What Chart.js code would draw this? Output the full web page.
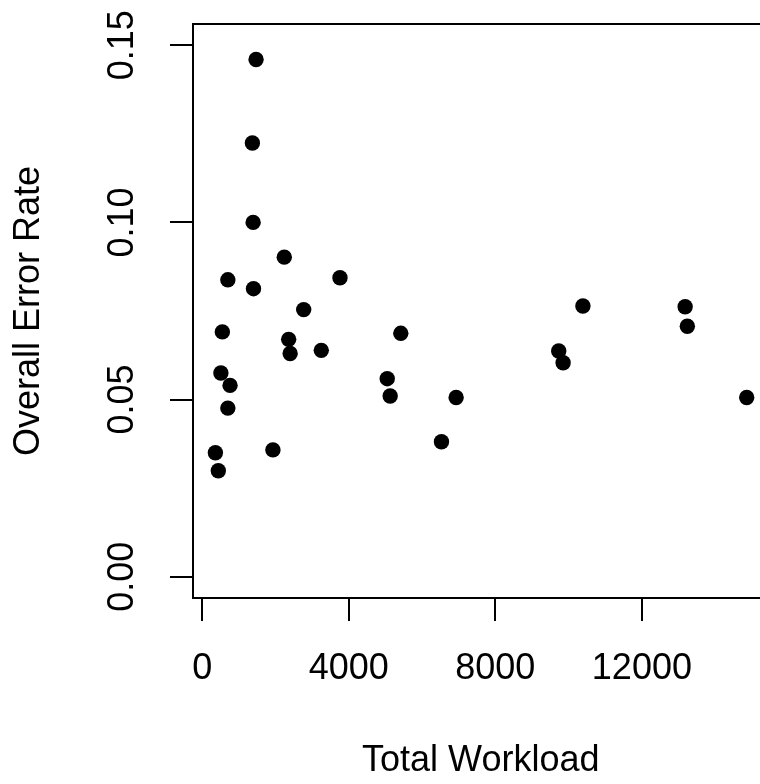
<!DOCTYPE html>
<html>
<head>
<meta charset="utf-8">
<script src="https://cdn.jsdelivr.net/npm/chart.js@4/dist/chart.umd.min.js"></script>
<style>
  html, body { margin: 0; padding: 0; background: #fff; overflow: hidden; }
  #wrap { width: 790px; height: 784px; }
</style>
</head>
<body>
<div id="wrap"><canvas id="chart" width="790" height="784"></canvas></div>
<script>
// data
var workload = [1470, 1370, 1390, 2240, 700, 1400, 3760, 2770, 550, 2360, 2400, 3250, 5420, 510, 760,
                700, 5050, 5130, 6930, 360, 1930, 6530, 440, 10390, 13180, 13240, 9730, 9850, 14860];
var errorRate = [0.1460, 0.1224, 0.1000, 0.0902, 0.0838, 0.0813, 0.0844, 0.0754, 0.0691, 0.0670, 0.0630, 0.0639, 0.0687, 0.0575, 0.0540,
                 0.0476, 0.0559, 0.0510, 0.0506, 0.0350, 0.0358, 0.0381, 0.0299, 0.0764, 0.0762, 0.0707, 0.0637, 0.0604, 0.0506];
var xTicks = [0, 4000, 8000, 12000];
var yTicks = [0.00, 0.05, 0.10, 0.15];

Chart.defaults.font.family = "'Liberation Sans', Arial, Helvetica, sans-serif";
Chart.defaults.color = '#000';

// R style box round the plot region
var boxPlugin = {
    id: 'box',
    afterDraw: function (chart) {
        var a = chart.chartArea;
        var ctx = chart.ctx;
        ctx.save();
        ctx.strokeStyle = '#000';
        ctx.lineWidth = 2;
        ctx.strokeRect(a.left, a.top, a.right - a.left, a.bottom - a.top);
        ctx.restore();
    }
};

var points = workload.map(function (x, i) { return { x: x, y: errorRate[i] }; });

const chrt = document.getElementById('chart');
const scatter = new Chart(chrt, {
    type: 'scatter',
    data: {
        datasets: [{
            data: points,
            backgroundColor: '#000',
            borderWidth: 0,
            pointRadius: 7.7,
            pointHoverRadius: 7.7
        }]
    },
    options: {
        responsive: false,
        animation: false,
        devicePixelRatio: 1,
        layout: { padding: { left: 0, top: 24, right: 21.5, bottom: 0 } },
        plugins: { legend: { display: false }, tooltip: { enabled: false } },
        scales: {
            x: {
                type: 'linear',
                min: -251,
                max: 15455,
                afterFit: function (s) { s.height = 186; s.paddingLeft = 0; s.paddingRight = 0; },
                afterBuildTicks: function (s) { s.ticks = xTicks.map(function (v) { return { value: v }; }); },
                grid: { drawOnChartArea: false, drawTicks: true, tickLength: 23, color: '#000', lineWidth: 2 },
                border: { display: true, color: '#000', width: 2 },
                ticks: {
                    padding: 26,
                    maxRotation: 0,
                    font: { size: 36 },
                    callback: function (v) { return String(v); }
                },
                title: { display: true, text: 'Total Workload', font: { size: 36 }, padding: { top: 0, bottom: 1 } }
            },
            y: {
                type: 'linear',
                min: -0.006,
                max: 0.156,
                afterFit: function (s) { s.width = 193; s.paddingTop = 0; s.paddingBottom = 0; },
                afterBuildTicks: function (s) { s.ticks = yTicks.map(function (v) { return { value: v }; }); },
                grid: { drawOnChartArea: false, drawTicks: true, tickLength: 23, color: '#000', lineWidth: 2 },
                border: { display: true, color: '#000', width: 2 },
                ticks: {
                    padding: 12,
                    minRotation: 90,
                    maxRotation: 90,
                    crossAlign: 'center',
                    font: { size: 36 },
                    callback: function (v) { return Number(v).toFixed(2); }
                },
                title: { display: true, text: 'Overall Error Rate', font: { size: 36 }, padding: { top: 7, bottom: 0 } }
            }
        }
    },
    plugins: [boxPlugin]
});
</script>
</body>
</html>
